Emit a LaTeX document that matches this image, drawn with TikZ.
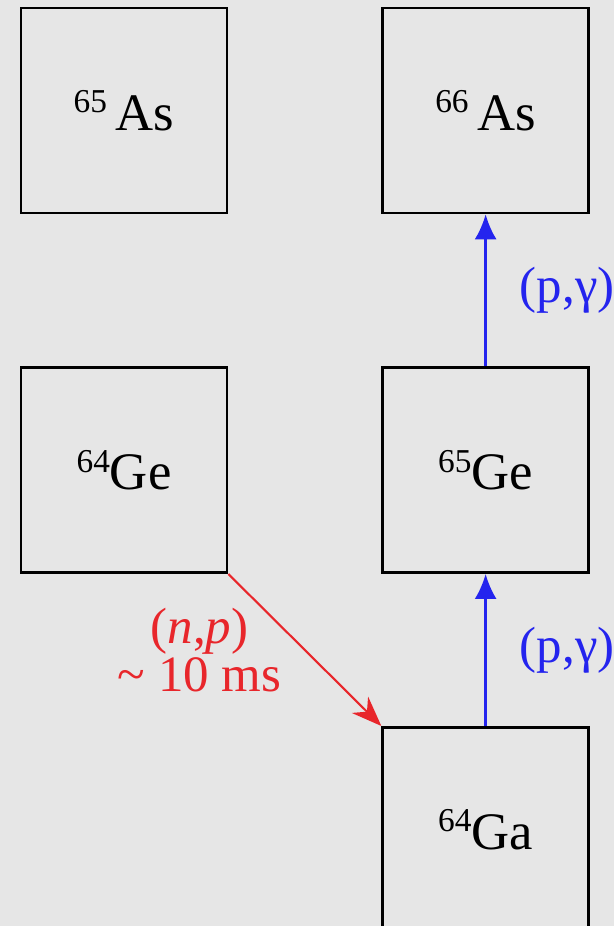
\documentclass[tikz,border=0pt]{standalone}
\usepackage{fontspec}
\setmainfont{Liberation Serif}
\usetikzlibrary{arrows.meta,positioning}
\definecolor{bgcol}{HTML}{E6E6E6}
\definecolor{pgcol}{HTML}{2424EE}
\definecolor{npcol}{HTML}{E8262B}
\newcommand\isotope[2]{\raisebox{0.33em}{\fontsize{19}{19}\selectfont #1}#2}

\begin{document}
\begin{tikzpicture}[
    nbox/.style={draw=black,line width=1.5pt,minimum width=4.12cm,minimum height=4.1cm,
      inner sep=0pt,font=\fontsize{30}{34}\selectfont},
    parr/.style={-{Latex[length=5mm,width=4.4mm]},pgcol,line width=1.5pt},
    narr/.style={-{Stealth[length=6mm,width=4.6mm]},npcol,line width=1.2pt},
    rlab/.style={inner sep=0pt,font=\fontsize{29}{27}\selectfont,align=center}]
    \path[use as bounding box,fill=bgcol](0,0)rectangle(12.28,-18.52);
    \node[nbox](as65) at (2.48,-2.21){\isotope{65}{\,As}};
    \node[nbox,right=3.06cm of as65](as66){\isotope{66}{\,As}};
    \node[nbox,below=3.04cm of as65](ge64){\isotope{64}{Ge}};
    \node[nbox,below=3.04cm of as66](ge65){\isotope{65}{Ge}};
    \node[nbox,below=3.04cm of ge65](ga64){\isotope{64}{Ga}};
    \draw[parr](ge65)--(as66) node[midway,right=0.66cm,rlab]{(p,γ)};
    \draw[parr](ga64)--(ge65) node[midway,right=0.66cm,rlab]{(p,γ)};
    \draw[narr](ge64.south east)--(ga64.north west)
      node[midway,left=0.45cm,rlab]{(\textit{n},\textit{p})\\\textasciitilde\ 10 ms};
  \end{tikzpicture}
\end{document}
